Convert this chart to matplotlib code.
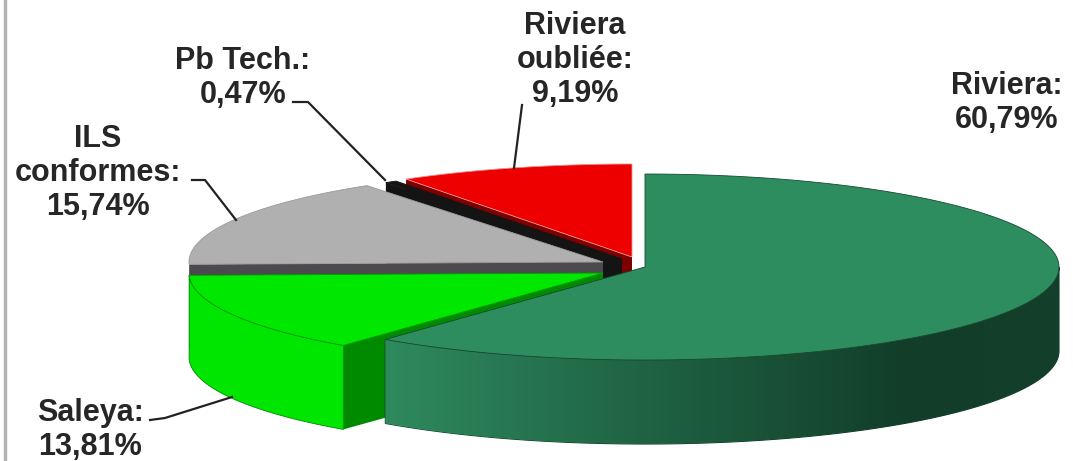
import numpy as np
import matplotlib
matplotlib.use('Agg')
import matplotlib.pyplot as plt
from matplotlib.colors import LinearSegmentedColormap
from matplotlib.patches import Polygon

# clockwise from 12 o'clock
labels = ['Riviera', 'Saleya', 'ILS\nconformes', 'Pb Tech.', 'Riviera\noubliée']
values = [60.79, 13.81, 15.74, 0.47, 9.19]

top_colors = ['#2E8D5F', '#00E800', '#B0B0B0', '#141414', '#EE0000']
wall_colors = ['#2E8D5F', '#00E600', '#4C4A4E', '#141414', '#EE0000']
face_colors = ['#1C5A3D', '#008A00', '#4C4A4E', '#141414', '#7C0000']
edge_colors = ['#17492F', '#00A000', '#9A9A9A', '#141414', '#E89090']

# slice apex in pixels (exploded pie)
centers = [(645, 267), (603, 273), (603, 262), (622, 259), (632, 257)]
rx, ry, depth = 414, 93, 84
draw_order = [4, 3, 2, 1, 0]

label_pos = [(1007, 103), (90, 430), (98, 173), (243, 78), (575, 60)]
leaders = [None,
           [(150, 420), (165, 418), (232, 397)],
           [(192, 180), (205, 180), (236, 220)],
           [(293, 102), (308, 102), (385, 180)],
           [(522, 105), (514, 168)]]
# slices whose cut face shows
with_face = [1, 2, 3, 4]


def rim(c, a0, a1, n=160):
    a = np.radians(np.linspace(a0, a1, n))
    return np.column_stack([c[0] + rx*np.sin(a), c[1] - ry*np.cos(a)])


fig = plt.figure(figsize=(10.73, 4.61), dpi=100)
ax = fig.add_axes([0, 0, 1, 1])
ax.set_xlim(0, 1073)
ax.set_ylim(461, 0)
ax.axis('off')

ends = np.cumsum(values)*3.6
starts = ends - np.array(values)*3.6

ax.axvline(4.5, color='#B4B4B4', lw=2.5)

green_cmap = LinearSegmentedColormap.from_list(
    'wall', [(0, '#2F8A5E'), (0.38, '#1F6344'), (0.78, '#123D28'), (1, '#14402B')])

for z, i in enumerate(draw_order):
    c = centers[i]
    a0, a1 = starts[i], ends[i]
    if i in with_face:
        p = rim(c, a0, a0, 2)[0]
        face = [c, p, (p[0], p[1] + depth), (c[0], c[1] + depth)]
        ax.add_patch(Polygon(face, fc=face_colors[i], ec='none', zorder=z*3))
    # outer wall, front half only
    w0, w1 = max(a0, 90), min(a1, 270)
    if w1 > w0 and i != 2:
        front = rim(c, w0, w1)
        lower = front[::-1] + [0, depth]
        wall = np.vstack([front, lower])
        if i == 0:
            wp = Polygon(wall, fc='none', ec='#0F3A25', lw=0.8, zorder=z*3+1)
            ax.add_patch(wp)
            im = ax.imshow(np.linspace(0, 1, 256)[None, :], cmap=green_cmap, vmin=0, vmax=1,
                           extent=[wall[:, 0].min(), wall[:, 0].max(), 461, 0],
                           aspect='auto', zorder=z*3+1)
            im.set_clip_path(wp)
        else:
            ax.add_patch(Polygon(wall, fc=wall_colors[i], ec=face_colors[i], lw=0.6, zorder=z*3+1))
    top = np.vstack([[c], rim(c, a0, a1)])
    ax.add_patch(Polygon(top, fc=top_colors[i], ec=edge_colors[i], lw=0.6, zorder=z*3+2))

ax.set_xlim(0, 1073)
ax.set_ylim(461, 0)

for name, v, pos, lead in zip(labels, values, label_pos, leaders):
    txt = name + ':\n' + f'{v:.2f}'.replace('.', ',') + '%'
    ax.text(pos[0], pos[1], txt, ha='center', va='center', ma='center',
            family='Liberation Sans', weight='bold', fontsize=22, color='#262626',
            linespacing=1.18, zorder=30)
    if lead:
        xs, ys = zip(*lead)
        ax.plot(xs, ys, color='#222222', lw=1.6, zorder=29)

fig.savefig('out.png', dpi=100)
